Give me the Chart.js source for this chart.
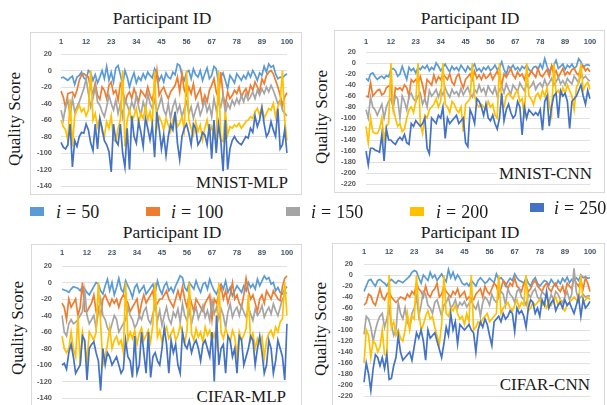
<!DOCTYPE html>
<html>
<head>
<meta charset="utf-8">
<script src="https://cdn.jsdelivr.net/npm/chart.js@4.4.0/dist/chart.umd.min.js"></script>
<style>
  body { margin: 0; width: 607px; height: 405px; position: relative; overflow: hidden; background: #fff; font-family: 'Liberation Serif', serif; font-weight: normal; color: #1a1a1a; }
  .box { position: absolute; border: 1px solid #d9d9d9; box-sizing: border-box; }
  canvas { position: absolute; }
  .title { position: absolute; font-size: 17.5px; transform: translate(-50%, -50%); white-space: nowrap; }
  .ylab { position: absolute; font-size: 17px; transform: translate(-50%, -50%) rotate(-90deg); white-space: nowrap; }
  .name { position: absolute; font-size: 17px; background: #fff; padding: 0 2px; transform: translate(-100%, -50%); white-space: nowrap; }
  .leg { position: absolute; font-size: 18px; white-space: nowrap; transform: translateY(-50%); }
  .leg .eq { margin: 0 5px; }
  .sw { position: absolute; width: 14px; height: 9px; }
</style>
</head>
<body>

<div class="title" style="left:162px; top:18px;">Participant ID</div>
<div class="title" style="left:470px; top:18px;">Participant ID</div>
<div class="title" style="left:172px; top:232px;">Participant ID</div>
<div class="title" style="left:470px; top:232px;">Participant ID</div>

<div class="ylab" style="left:15px; top:119px;">Quality Score</div>
<div class="ylab" style="left:322px; top:117px;">Quality Score</div>
<div class="ylab" style="left:18px; top:328px;">Quality Score</div>
<div class="ylab" style="left:321px; top:329px;">Quality Score</div>

<div class="box" style="left:30px; top:32px; width:272px; height:163px;"></div>
<div class="box" style="left:334px; top:30px; width:271px; height:163px;"></div>
<div class="box" style="left:31px; top:244px; width:271px; height:170px;"></div>
<div class="box" style="left:332px; top:243px; width:273px; height:170px;"></div>

<canvas id="mnistMlp"></canvas>
<canvas id="mnistCnn"></canvas>
<canvas id="cifarMlp"></canvas>
<canvas id="cifarCnn"></canvas>

<div class="name" style="left:290px; top:183px;">MNIST-MLP</div>
<div class="name" style="left:594px; top:174px;">MNIST-CNN</div>
<div class="name" style="left:288px; top:397px;">CIFAR-MLP</div>
<div class="name" style="left:592px; top:385px;">CIFAR-CNN</div>

<div id="legend"></div>

<script>
const participantIds = Array.from({ length: 100 }, (_, i) => i + 1);
const shownIds = [1, 12, 23, 34, 45, 56, 67, 78, 89, 100];
const iterations = [50, 100, 150, 200, 250];
const seriesColors = ['#5B9BD5', '#ED7D31', '#A5A5A5', '#FFC000', '#4472C4'];

// MNIST-MLP
const mnistMlp50 = [
  -9, -8, -10, -12, -9, -7, -17, -8, -6, -2,
  -9, -11, 0, -3, -12, -5, -15, -8, 0, -10,
  5, -12, -2, -14, 3, 6, -5, -18, 0, -8,
  -20, -10, -3, -15, -8, -12, -4, -10, -2, -6,
  -9, 2, -4, -12, -6, -14, -3, -8, -10, -2,
  -5, 8, 6, -6, -12, -2, 0, -10, 2, -5,
  -8, 0, -12, -4, 3, -10, -6, 5, 2, -15,
  -8, -3, -12, -22, -6, -10, -15, -4, -8, -12,
  -6, -10, -2, -8, 0, -5, -12, -3, -6, 5,
  -2, 8, 4, 6, -4, -10, -8, -9, -6, -4
];
const mnistMlp100 = [
  -25, -32, -45, -28, -27, -26, -32, -24, -12, -5,
  -4, -6, -8, -22, -28, -15, -30, -35, -20, -24,
  -34, -18, -14, -28, -24, -36, -16, -22, -40, -30,
  -26, -34, -22, -30, -38, -24, -28, -32, -20, -30,
  -36, -22, 0, -30, -24, -20, -28, -34, -26, -22,
  -18, -8, -26, -4, -24, -30, -20, -28, -16, -34,
  -28, -22, -40, -30, -38, -24, -18, -10, -26, -34,
  -2, -30, -42, -26, -34, -30, -24, -28, -20, -32,
  -26, -22, -30, -18, -24, -14, -20, -26, -10, -16,
  -6, -2, 0, -4, -12, -20, -30, -42, -32, -27
];
const mnistMlp150 = [
  -48, -60, -44, -36, -55, -34, -50, -44, -38, -30,
  -22, -10, -28, -44, -34, -20, -38, -42, -50, -56,
  -44, -30, -40, -48, -36, -52, -40, -56, -34, -42,
  -50, -38, -46, -30, -44, -54, -38, -48, -28, -40,
  -46, -36, -50, -42, -32, -48, -54, -40, -58, -44,
  -36, -50, -42, -56, -46, -38, -52, -44, -58, -48,
  -40, -54, -46, -36, -50, -42, -56, -34, -48, -38,
  -44, -30, -52, -40, -46, -36, -42, -34, -40, -30,
  -38, -28, -36, -32, -26, -34, -24, -30, -22, -28,
  -20, -26, -18, -24, -32, -40, -36, -48, -52, -55
];
const mnistMlp200 = [
  -60, -68, -72, -85, -35, -92, -55, -48, -42, -50,
  -46, -55, -48, 0, -60, -52, -68, -58, -75, -80,
  -62, -70, -55, -84, -86, -70, -60, 0, -92, -60,
  -48, -62, -55, -46, -64, -52, -58, -44, -60, -50,
  -66, 0, -70, -56, -62, -72, -58, -66, -74, -60,
  -52, -68, -64, -56, -72, 0, -60, -70, -78, -62,
  -74, -66, -84, -70, -60, -76, -68, -80, -86, 0,
  -84, -86, -50, -78, -68, -70, -66, -68, -64, -70,
  -66, -62, -60, -56, -58, -50, -46, -54, -44, -58,
  -52, -46, -48, -40, -56, -44, -38, 0, -60, -85
];
const mnistMlp250 = [
  -87, -93, -95, -90, -65, -117, -85, -92, -80, -75,
  -76, -65, -72, -88, -97, -65, -95, -58, -70, -85,
  -90, -98, -123, -65, -85, -90, -65, -100, -117, -70,
  -120, -55, -80, -88, -62, -75, -92, -58, -70, -84,
  -66, -105, -50, -70, -95, -78, -103, -80, -65, -72,
  -50, -88, -108, -80, -70, -65, -76, -90, -65, -70,
  -90, -85, -75, -78, -90, -65, -107, -60, -100, -65,
  -85, -122, -60, -120, -95, -85, -80, -85, -88, -90,
  -85, -80, -82, -70, -75, -55, -68, -60, -45, -65,
  -80, -75, -62, -72, -80, -46, -95, -90, -72, -100
];

// MNIST-CNN
const mnistCnn50 = [
  -28, -32, -20, -18, -25, -30, -26, -24, -28, -23,
  -25, -12, -10, -14, -24, -20, -6, -18, -30, -8,
  -14, -10, -18, -8, -12, -6, -10, -4, -14, -8,
  -12, 0, -6, -14, -8, -2, -10, -16, -6, -12,
  -8, -14, -4, -10, -16, -6, -12, -8, -2, -14,
  -10, -16, -8, -12, -6, -14, -10, -4, -12, -8,
  2, -12, -20, -6, -10, -4, -12, -8, -14, -6,
  -10, -4, -12, -16, -8, -6, -12, -2, -10, 8,
  -6, -16, -8, -4, 5, -10, -6, -2, -12, -4,
  -8, -2, -10, -6, 8, 2, -8, -4, -3, -5
];
const mnistCnn100 = [
  -60, -62, -36, -60, -55, -50, -48, -58, -55, -45,
  -42, -40, -82, -45, -48, -45, -50, -40, -45, -60,
  -30, -35, -30, -35, -25, -40, -60, -30, -35, -40,
  -22, -35, -25, -30, -20, -25, -30, -20, -35, -40,
  -25, -20, -35, -45, -30, -25, -20, -30, -15, -28,
  -22, -30, -20, -28, -24, -18, -30, -22, -15, -26,
  -40, -20, -26, -18, -10, -22, -28, -16, -24, -20,
  -30, -18, -24, -14, -20, -26, -10, -22, -25, -18,
  -12, -24, -5, -20, -14, -26, -18, -10, -22, -16,
  -20, -12, -10, -18, -22, -8, -5, -14, -10, -16
];
const mnistCnn150 = [
  -85, -100, -62, -80, -85, -95, -85, -75, -100, -80,
  -70, -65, -80, -60, -65, -100, -60, -70, -85, -60,
  -55, -65, -70, -60, -55, -75, -65, -80, -50, -60,
  -55, -48, -62, -50, -58, -45, -55, -62, -48, -56,
  -52, -60, -46, -58, -50, -44, -56, -62, -48, -54,
  -40, -52, -46, -58, -42, -50, -56, -44, -60, -48,
  -42, -54, -38, -48, -56, -40, -46, -52, -36, -44,
  -50, -38, -46, -42, -34, -48, -40, -36, -44, -30,
  -42, -36, -28, -40, -34, -26, -38, -32, -40, -28,
  -34, -38, -24, -30, -36, -20, -28, -24, -30, -33
];
const mnistCnn200 = [
  -115, -145, -100, -125, -128, -128, -120, -100, -140, -115,
  -110, 0, -80, -100, -115, -110, -125, -120, -100, -85,
  -80, -90, -70, 0, -110, -128, -95, -100, -85, -80,
  -75, -65, -80, -70, 0, -75, -80, -90, -70, -75,
  -85, -90, -80, -125, -75, -70, -65, 0, -60, -75,
  -80, -75, -80, -85, -70, -80, -75, -95, -100, 0,
  -75, -80, -60, -55, -60, -65, -55, -50, -70, -65,
  -100, 0, -60, -65, -75, -60, -55, -65, -50, -60,
  -45, -75, -95, 0, -55, -50, -60, -45, -55, -40,
  -50, -60, -85, -45, -35, 0, -50, -40, -35, -48
];
const mnistCnn250 = [
  -160, -185, -155, -155, -158, -160, -162, -130, -178, -120,
  -140, -140, -145, -148, -140, -135, -140, -130, -145, -148,
  -110, -115, -105, -110, -115, -110, -100, -155, -165, -100,
  -105, -110, -95, -100, -80, -137, -100, -110, -105, -100,
  -95, -110, -105, -100, -145, -152, -85, -95, -110, -65,
  -70, -80, -95, -75, -100, -105, -95, -110, -120, -100,
  -55, -105, -85, -75, -90, -100, -95, -70, -80, -131,
  -80, -100, -85, -90, -95, -90, -95, -85, -122, -70,
  -60, -115, -80, -60, -55, -100, -50, -60, -55, -70,
  -119, -70, -65, -60, -50, -40, -60, -75, -50, -65
];

// CIFAR-MLP
const cifarMlp50 = [
  -8, -9, -10, -12, -8, -5, -6, -7, -10, -5,
  -8, -12, -15, -10, -5, 0, -2, -10, -14, -4,
  4, -10, 0, -15, -6, 5, -8, -12, 2, -4,
  -10, -18, -6, -2, -12, -8, -4, -14, -10, -6,
  -2, -12, 2, -8, -14, -4, 0, -10, -6, -12,
  -4, 2, 8, 6, -6, -10, 0, -4, -8, 2,
  -6, -12, -2, 0, -8, 4, -4, -10, -14, -6,
  -2, -8, 2, -12, -6, -16, -10, -4, -8, -12,
  -4, -10, 0, -6, -2, -8, 4, -4, 2, 8,
  4, 6, -2, 0, -10, -6, -12, -14, -8, -5
];
const cifarMlp100 = [
  -25, -30, -45, -20, -30, -25, -20, -40, -30, 0,
  -35, -35, -30, -25, -15, -35, -30, -40, -20, -15,
  -22, -28, -20, -25, -20, -30, -20, -15, -20, -25,
  -35, -30, -25, -20, -40, -25, -15, -25, -20, -15,
  -10, -30, -25, -20, -20, -15, -10, -20, -25, -30,
  -20, -10, -20, -5, -20, -30, -15, -25, -35, -20,
  -25, -30, -35, -25, -20, -15, -45, -20, -25, -15,
  -5, -20, -10, -25, -15, 0, -20, -15, -25, -30,
  -15, 5, -10, -20, -15, -25, -35, -20, -15, -25,
  -10, -15, -20, -10, -15, -20, -22, -5, 5, 8
];
const cifarMlp150 = [
  -40, -60, -65, -50, -45, -50, -48, -45, -40, -35,
  -10, -40, -50, -45, -40, -55, -35, -20, -40, -45,
  -55, -60, -50, -40, -45, -60, -55, -50, -45, -30,
  -40, -45, -55, -50, -40, -45, -35, -30, -45, -50,
  -38, -28, -46, -34, -52, -40, -30, -44, -50, -36,
  -42, -32, -48, -26, -40, -46, -34, -50, -38, -30,
  -44, -36, -28, -42, -34, -46, -22, -38, -30, -44,
  -32, -40, -55, -36, -26, -42, -34, -30, -40, -28,
  -36, -42, -30, -38, -46, -32, -40, -36, -28, -42,
  -35, -30, -38, -26, -34, -40, -30, -20, -15, -12
];
const cifarMlp200 = [
  -65, -80, -85, -80, -60, -80, -90, -40, -100, -60,
  -75, -95, -60, -65, -70, -60, 0, -50, -100, -90,
  -75, -55, -80, -70, -65, -75, -70, -85, 0, -70,
  -60, -68, -58, -75, -62, -55, -70, -64, -58, -72,
  -50, 0, -66, -58, -72, -60, -54, -68, -62, -56,
  -70, -64, -52, -60, -74, -58, 0, -62, -70, -56,
  -66, -60, -72, -54, -64, -58, -70, -62, -76, 0,
  -60, -68, -56, -64, -72, -58, -66, -90, -60, -70,
  -64, -56, -15, -70, -62, -80, -68, -74, -66, -92,
  -70, -62, -58, -66, -54, -60, -48, -44, 0, -40
];
const cifarMlp250 = [
  -100, -98, -105, -85, -75, -90, -110, -105, -100, -65,
  -70, -118, -80, -75, -72, -85, -95, -131, -80, -100,
  -85, -90, -100, -95, -90, -100, -110, -105, -70, -90,
  -95, -115, -65, -110, -100, -60, -85, -110, -60, -115,
  -90, -85, -95, -100, -80, -55, -75, -110, -70, -85,
  -75, -100, -110, -60, -75, -80, -70, -85, -75, -70,
  -80, -95, -75, -70, -80, -90, -60, -120, -40, -100,
  -80, -75, -110, -65, -70, -90, -80, -110, -65, -70,
  -100, -90, -80, -65, -70, -100, -80, -65, -85, -110,
  -100, -70, -80, -110, -95, -70, -80, -90, -118, -50
];

// CIFAR-CNN
const cifarCnn50 = [
  -30, -20, -10, -8, -15, -20, -10, -8, -12, -15,
  -20, -12, -8, -12, -15, -10, -12, -14, -10, -6,
  -2, 5, 8, 6, -5, -15, 0, -5, -10, 5,
  -5, 0, -10, -4, 2, -6, -12, 10, -5, 5,
  -8, 0, -6, -15, -18, -15, -20, -10, -15, -20,
  -10, -5, -10, -15, -12, -6, -10, -14, 2, -8,
  -5, -10, -20, -12, -6, -10, 2, -5, -10, -12,
  -15, -5, -15, -20, -10, -5, -15, -20, -15, -10,
  -12, -18, -8, -14, -20, -10, -16, -6, -12, -4,
  -14, -8, -10, -5, -10, 0, -5, -3, -6, -5
];
const cifarCnn100 = [
  -55, -50, -35, -38, -50, -55, -40, -25, -40, -45,
  -35, -30, -40, -45, -50, -45, -40, -42, -45, -35,
  -40, -30, -35, -15, -25, -30, -40, -20, -35, -40,
  -30, -25, -15, -40, -35, -20, -30, -35, -40, -30,
  -35, -25, -40, -35, -30, -45, -40, -42, -45, -35,
  -30, -25, -40, -20, -30, -35, -25, -15, -20, -35,
  -25, -10, -15, -25, -15, -20, -5, -20, -25, -30,
  -15, -20, -30, -25, -15, -10, -20, -25, -30, -20,
  -15, -25, -30, -20, -15, -25, -30, -20, -35, -15,
  -20, -25, -5, -15, -20, -10, -25, -5, -15, -30
];
const cifarCnn150 = [
  -108, -75, -80, -95, -120, -100, -85, -75, -70, -95,
  -80, -60, -90, -110, -100, -50, -70, -80, -60, -85,
  -95, -70, -60, -40, -75, -55, -30, -35, -55, -60,
  -70, -50, -45, -60, -75, -55, -50, -40, -60, -55,
  -45, -60, -50, -55, -48, -58, -52, -46, -56, -62,
  -50, -75, -50, -40, -45, -55, -35, -45, -50, -40,
  -30, -35, -55, -25, -35, -40, -50, -30, -25, -40,
  -45, -55, -35, -40, -30, -25, -40, -45, -30, -35,
  -40, -50, -35, -45, -30, -35, -45, -50, -40, -30,
  -45, -35, 12, -30, -45, -40, -35, -40, -38, -38
];
const cifarCnn200 = [
  -160, -100, -110, -150, -120, -125, -140, -130, -100, -145,
  -145, 0, -95, -85, -110, -100, -115, -120, -100, -70,
  -100, -75, -80, 0, -65, -100, -90, -75, -65, -80,
  -75, -95, -110, -125, -90, 0, -70, -75, -60, -65,
  -55, -70, -80, -75, -90, -70, -85, 0, -100, -95,
  -85, -90, -80, -75, -70, -85, -80, -75, -70, 0,
  -70, -60, -55, -50, -60, -65, -55, -45, -60, -50,
  -55, 0, -65, -60, -50, -55, -50, -45, -55, -50,
  -60, -50, -55, -45, -40, -55, -45, -60, -65, -55,
  -50, -45, -40, -45, -50, 0, -50, -45, -40, -45
];
const cifarCnn250 = [
  -195, -160, -180, -210, -170, -145, -150, -165, -150, -170,
  -145, -190, -188, -165, -150, -110, -140, -155, -150, -145,
  -140, -155, -130, -105, -115, -100, -120, -155, -100, -115,
  -110, -105, -120, -135, -150, -125, -95, -110, -70, -100,
  -85, -125, -90, -95, -100, -95, -90, -100, -105, -140,
  -100, -85, -95, -80, -90, -110, -128, -85, -80, -75,
  -85, -70, -80, -75, -65, -70, -103, -60, -70, -65,
  -75, -95, -60, -45, -50, -70, -60, -75, -45, -55,
  -30, -60, -50, -45, -65, -55, -50, -60, -45, -55,
  -50, -60, -70, -55, -40, -75, -45, -60, -55, -48
];

const tickFont = { family: 'Liberation Sans', size: 7.5, weight: 'bold' };

const panels = [
  { id: 'mnistMlp', series: [mnistMlp50, mnistMlp100, mnistMlp150, mnistMlp200, mnistMlp250],
    yMin: -140, yMax: 20, left: 30, top: 32, width: 272, height: 163,
    yWidth: 31, yPad: 9, xHeight: 22, xPad: 8, padRight: 15, padBottom: 9 },
  { id: 'mnistCnn', series: [mnistCnn50, mnistCnn100, mnistCnn150, mnistCnn200, mnistCnn250],
    yMin: -220, yMax: 20, left: 334, top: 30, width: 271, height: 163,
    yWidth: 32, yPad: 10, xHeight: 22, xPad: 6, padRight: 15, padBottom: 9 },
  { id: 'cifarMlp', series: [cifarMlp50, cifarMlp100, cifarMlp150, cifarMlp200, cifarMlp250],
    yMin: -140, yMax: 20, left: 31, top: 244, width: 271, height: 161,
    yWidth: 31, yPad: 10, xHeight: 22, xPad: 9, padRight: 15, padBottom: 7 },
  { id: 'cifarCnn', series: [cifarCnn50, cifarCnn100, cifarCnn150, cifarCnn200, cifarCnn250],
    yMin: -220, yMax: 20, left: 332, top: 243, width: 273, height: 162,
    yWidth: 32, yPad: 11, xHeight: 21, xPad: 8, padRight: 15, padBottom: 9 }
];

function drawPanel(p) {
  const canvas = document.getElementById(p.id);
  canvas.width = p.width;
  canvas.height = p.height;
  canvas.style.left = p.left + 'px';
  canvas.style.top = p.top + 'px';

  new Chart(canvas, {
    type: 'line',
    data: {
      labels: participantIds,
      datasets: p.series.map((values, k) => ({
        label: 'i = ' + iterations[k],
        data: values,
        borderColor: seriesColors[k],
        backgroundColor: seriesColors[k],
        borderWidth: 1.7,
        pointRadius: 0,
        tension: 0,
        order: p.series.length - k   // later series drawn on top, as in Excel
      }))
    },
    options: {
      responsive: false,
      animation: false,
      layout: { padding: { left: 0, top: 0, right: p.padRight, bottom: p.padBottom } },
      plugins: { legend: { display: false }, tooltip: { enabled: false } },
      scales: {
        x: {
          position: 'top',
          grid: { display: false, drawTicks: false },
          border: { display: false },
          ticks: {
            autoSkip: false,
            maxRotation: 0,
            padding: p.xPad,
            color: '#44546A',
            font: tickFont,
            callback: (v, i) => shownIds.includes(participantIds[i]) ? participantIds[i] : ''
          },
          afterFit: s => { s.height = p.xHeight; s.paddingLeft = 0; s.paddingRight = 0; }
        },
        y: {
          min: p.yMin,
          max: p.yMax,
          grid: { color: '#d9d9d9', lineWidth: 0.8, drawTicks: false },
          border: { display: false },
          ticks: { stepSize: 20, autoSkip: false, padding: p.yPad, color: '#595959', font: tickFont },
          afterFit: s => { s.width = p.yWidth; s.paddingTop = 0; s.paddingBottom = 0; }
        }
      }
    }
  });
}

panels.forEach(drawPanel);

// legend row between the two panel rows
const legendPos = [[30, 56, 212], [146, 171, 212], [286, 311, 212], [410, 436, 212], [530, 554, 208]];
const legend = document.getElementById('legend');
iterations.forEach((it, k) => {
  const [sx, tx, cy] = legendPos[k];
  const sw = document.createElement('div');
  sw.className = 'sw';
  sw.style.left = sx + 'px';
  sw.style.top = (cy - 5) + 'px';
  sw.style.background = seriesColors[k];
  legend.appendChild(sw);
  const t = document.createElement('div');
  t.className = 'leg';
  t.style.left = tx + 'px';
  t.style.top = cy + 'px';
  t.innerHTML = '<i>i</i><span class="eq">=</span>' + it;
  legend.appendChild(t);
});
</script>
</body>
</html>
